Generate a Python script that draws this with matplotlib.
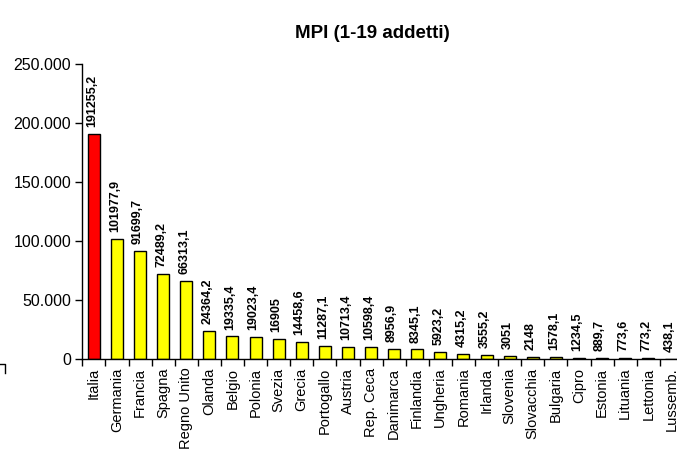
import numpy as np
import matplotlib.pyplot as plt
from matplotlib.lines import Line2D
from matplotlib.ticker import FuncFormatter

plt.rcParams['font.family'] = ['Liberation Sans', 'DejaVu Sans']

paesi = ['Italia', 'Germania', 'Francia', 'Spagna', 'Regno Unito', 'Olanda',
         'Belgio', 'Polonia', 'Svezia', 'Grecia', 'Portogallo', 'Austria',
         'Rep. Ceca', 'Danimarca', 'Finlandia', 'Ungheria', 'Romania',
         'Irlanda', 'Slovenia', 'Slovacchia', 'Bulgaria', 'Cipro', 'Estonia',
         'Lituania', 'Lettonia', 'Lussemb.']
valori = [191255.2, 101977.9, 91699.7, 72489.2, 66313.1, 24364.2,
          19335.4, 19023.4, 16905, 14458.6, 11287.1, 10713.4,
          10598.4, 8956.9, 8345.1, 5923.2, 4315.2,
          3555.2, 3051, 2148, 1578.1, 1234.5, 889.7,
          773.6, 773.2, 438.1]

def fmt_val(v):
    if float(v).is_integer():
        return str(int(v))
    return ('%.1f' % v).replace('.', ',')

W, H = 677, 450
fig = plt.figure(figsize=(W / 100, H / 100), dpi=100)
# axes in pixel terms: left 82, bottom 359, top 64, 23.1 px per category
ax = fig.add_axes([82.3 / W, 90.7 / H, 26 * 23.1 / W, 295 / H])

x = np.arange(len(paesi))
colori = ['#FF0000'] + ['#FFFF00'] * (len(paesi) - 1)
ax.bar(x, valori, width=0.52, color=colori, edgecolor='black', linewidth=1.0)

for xi, v in zip(x, valori):
    ax.annotate(fmt_val(v), (xi, v), xytext=(-1.5, 5), textcoords='offset points',
                rotation=90, ha='center', va='bottom', fontsize=9,
                fontweight='bold')

ax.set_xlim(-0.5, len(paesi) - 0.5)
ax.set_ylim(0, 250000)
ax.set_yticks(np.arange(0, 250001, 50000))
ax.yaxis.set_major_formatter(FuncFormatter(lambda v, p: '{:,.0f}'.format(v).replace(',', '.')))

# ticks between categories, labels at centers
ax.set_xticks(np.arange(-0.5, len(paesi), 1.0))
ax.set_xticklabels([])
ax.set_xticks(x, minor=True)
ax.set_xticklabels(paesi, minor=True, rotation=90, fontsize=10.5)
ax.tick_params(axis='x', which='minor', length=0, pad=6)
ax.tick_params(axis='x', which='major', length=5, width=1, direction='out')
ax.tick_params(axis='y', length=5, width=1, direction='out', labelsize=11.5, pad=3)

ax.spines['top'].set_visible(False)
ax.spines['right'].set_visible(False)
for s in ['left', 'bottom']:
    ax.spines[s].set_linewidth(1)

fig.text(372 / W, 1 - 33 / H, 'MPI (1-19 addetti)', ha='center', va='center',
         fontsize=13.5, fontweight='bold')

# little stray mark at bottom-left
fig.add_artist(Line2D([0 / W, 4.5 / W, 4.5 / W],
                      [1 - 364 / H, 1 - 364 / H, 1 - 373 / H],
                      transform=fig.transFigure, color='black', linewidth=1))

fig.savefig('out.png', dpi=100)
